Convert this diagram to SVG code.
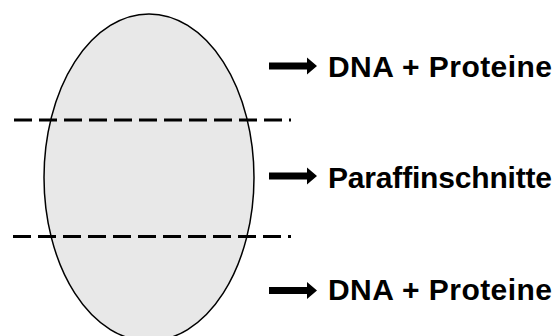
<svg xmlns="http://www.w3.org/2000/svg" width="560" height="336" viewBox="0 0 560 336">
<defs>
<style>
.cut{stroke:#000;stroke-width:3;stroke-dasharray:18 7;fill:none}
.lbl{font-family:"Liberation Sans",Arial,sans-serif;font-weight:bold;font-size:30px;fill:#000}
.arr{fill:#000}
</style>
<path id="arrowShape" d="M0,-3.5 L38,-3.5 L38,-8.5 L48,0 L38,8.5 L38,3.5 L0,3.5 Z"/>
</defs>
<rect width="560" height="336" fill="#fff"/>
<g id="sample">
<ellipse cx="149" cy="177.5" rx="105" ry="163.5" fill="#e8e8e8" stroke="#000" stroke-width="1.5"/>
</g>
<g id="connectors">
<line class="cut" x1="14" y1="120" x2="291" y2="120"/>
<line class="cut" x1="13" y1="236.5" x2="291" y2="236.5"/>
<use href="#arrowShape" class="arr" x="269" y="66"/>
<use href="#arrowShape" class="arr" x="269" y="176"/>
<use href="#arrowShape" class="arr" x="269" y="290.5"/>
</g>
<g id="label-top"><text class="lbl" x="328" y="77" textLength="224" lengthAdjust="spacing">DNA + Proteine</text></g>
<g id="label-middle"><text class="lbl" x="328" y="188" textLength="224" lengthAdjust="spacing">Paraffinschnitte</text></g>
<g id="label-bottom"><text class="lbl" x="328" y="300" textLength="224" lengthAdjust="spacing">DNA + Proteine</text></g>
</svg>
